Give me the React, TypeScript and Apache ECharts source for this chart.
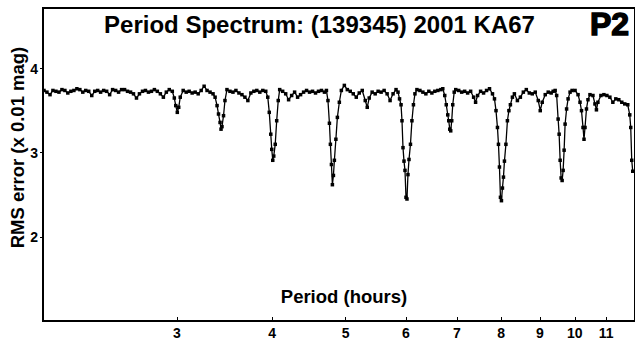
import React, { useEffect, useRef } from "react";
import * as echarts from "echarts";

const periods = [
  2.006, 2.024, 2.043, 2.061, 2.08, 2.099, 2.118, 2.137, 2.156, 2.176, 2.196, 2.216, 2.236, 2.256, 2.276, 2.297, 2.318, 2.339, 2.36, 2.381, 2.403, 2.425, 2.447, 2.469, 2.492, 2.514, 2.537, 2.56, 2.583, 2.607, 2.63, 2.654, 2.678, 2.703, 2.727, 2.752, 2.777, 2.802, 2.827, 2.853, 2.879, 2.905, 2.931, 2.958,
  2.976, 2.989, 3.003, 3.016, 3.03, 3.057, 3.085, 3.113, 3.141, 3.17, 3.199, 3.228, 3.257, 3.286, 3.316, 3.346, 3.367,
  3.387, 3.402, 3.418, 3.428, 3.438, 3.454, 3.469, 3.49, 3.522, 3.554, 3.586, 3.619, 3.652, 3.685, 3.718, 3.752, 3.786, 3.82, 3.855, 3.89, 3.925,
  3.949, 3.967, 3.985, 3.997, 4.009, 4.021, 4.039, 4.057, 4.076, 4.094, 4.131, 4.169, 4.206, 4.245, 4.283, 4.322, 4.361, 4.401, 4.441, 4.481, 4.522, 4.563, 4.604, 4.646, 4.688,
  4.716, 4.738, 4.759, 4.773, 4.788, 4.802, 4.817, 4.831, 4.853, 4.875, 4.904, 4.934, 4.979, 5.024, 5.069, 5.115, 5.162, 5.209, 5.256, 5.304, 5.336, 5.368, 5.416, 5.466, 5.515, 5.565, 5.616, 5.667, 5.718, 5.77, 5.822, 5.857,
  5.884, 5.911, 5.928, 5.946, 5.964, 5.982, 6.0, 6.018, 6.036, 6.055, 6.082, 6.109, 6.137, 6.165, 6.202, 6.258, 6.315, 6.372, 6.43, 6.489, 6.547, 6.607, 6.667, 6.707,
  6.747, 6.778, 6.809, 6.829, 6.85, 6.87, 6.891, 6.912, 6.943, 6.975, 7.038, 7.102, 7.166, 7.231, 7.297, 7.363, 7.407, 7.452, 7.52, 7.588, 7.657, 7.726, 7.796, 7.843,
  7.879, 7.914, 7.938, 7.962, 7.986, 8.01, 8.034, 8.059, 8.083, 8.119, 8.156, 8.193, 8.23, 8.28, 8.33, 8.406, 8.482, 8.559, 8.636, 8.715, 8.794, 8.873, 8.954, 9.008, 9.062, 9.145, 9.228, 9.311, 9.367, 9.424,
  9.467, 9.509, 9.538, 9.567, 9.596, 9.625, 9.654, 9.683, 9.712, 9.756, 9.8, 9.859, 9.919, 10.009, 10.1, 10.16,
  10.206, 10.253, 10.284, 10.315, 10.361, 10.408, 10.471, 10.566, 10.63, 10.678, 10.726, 10.823, 10.922, 11.021, 11.121, 11.222, 11.323, 11.426, 11.53, 11.634, 11.74, 11.811, 11.846, 11.882, 11.918,
];

const rms = [
  3.74, 3.72, 3.69, 3.74, 3.73, 3.72, 3.75, 3.74, 3.71, 3.73, 3.74, 3.76, 3.75, 3.72, 3.74, 3.73, 3.68, 3.73, 3.74, 3.72, 3.74, 3.73, 3.69, 3.75, 3.74, 3.72, 3.75, 3.75, 3.73, 3.72, 3.7, 3.65, 3.7, 3.73, 3.74, 3.72, 3.73, 3.75, 3.73, 3.7, 3.66, 3.72, 3.75, 3.73,
  3.65, 3.56, 3.48, 3.54, 3.66, 3.74, 3.72, 3.73, 3.71, 3.72, 3.7, 3.74, 3.79, 3.74, 3.72, 3.7, 3.66,
  3.56, 3.46, 3.36, 3.28, 3.31, 3.44, 3.62, 3.75, 3.73, 3.72, 3.74, 3.71, 3.69, 3.66, 3.62, 3.71, 3.73, 3.74, 3.72, 3.74, 3.73,
  3.66, 3.48, 3.22, 3.04, 2.91, 2.96, 3.1, 3.38, 3.62, 3.75, 3.73, 3.7, 3.63, 3.68, 3.72, 3.66, 3.69, 3.72, 3.74, 3.72, 3.73, 3.71, 3.73, 3.74, 3.72,
  3.74, 3.62, 3.35, 3.1, 2.86, 2.62, 2.73, 2.91, 3.16, 3.42, 3.6, 3.74, 3.8, 3.75, 3.73, 3.7, 3.66, 3.71, 3.74, 3.62, 3.54, 3.65, 3.72, 3.7, 3.73, 3.72, 3.74, 3.7, 3.62, 3.7, 3.75, 3.72,
  3.64, 3.57, 3.38, 3.06, 2.9, 2.79, 2.47, 2.45, 2.74, 2.92, 3.1, 3.38, 3.57, 3.7, 3.75, 3.74, 3.72, 3.7, 3.73, 3.71, 3.73, 3.74, 3.75, 3.76,
  3.68, 3.57, 3.45, 3.38, 3.28, 3.26, 3.38, 3.57, 3.72, 3.75, 3.74, 3.72, 3.73, 3.71, 3.73, 3.66, 3.6, 3.68, 3.73, 3.71, 3.74, 3.76, 3.7, 3.64,
  3.5, 3.3, 3.1, 2.83, 2.47, 2.43, 2.58, 2.71, 2.9, 3.1, 3.38, 3.5, 3.57, 3.66, 3.7, 3.62, 3.66, 3.72, 3.75, 3.71, 3.7, 3.72, 3.62, 3.5, 3.6, 3.69, 3.72, 3.71, 3.73, 3.74,
  3.68, 3.4, 3.22, 2.91, 2.7, 2.67, 2.79, 3.03, 3.34, 3.52, 3.64, 3.72, 3.74, 3.74, 3.69, 3.6,
  3.5, 3.3, 3.16, 3.3, 3.52, 3.63, 3.69, 3.68, 3.58, 3.51, 3.6, 3.68, 3.69, 3.68, 3.66, 3.6, 3.64, 3.63, 3.6, 3.58, 3.57, 3.45, 3.3, 2.91, 2.78,
];

const xTickValues = [3, 4, 5, 6, 7, 8, 9, 10, 11];
const yTickValues = [2, 3, 4];
const titleText = "Period Spectrum: (139345) 2001 KA67";
const tagText = "P2";
const xName = "Period (hours)";
const yName = "RMS error (x 0.01 mag)";

const FONT = "'Liberation Sans', Arial, sans-serif";

export default function App() {
  const ref = useRef<HTMLDivElement>(null);
  useEffect(() => {
    if (!ref.current) return;
    const chart = echarts.init(ref.current, null, { renderer: "svg" });
    const data = periods.map((p, i) => [p, rms[i]]);
    chart.setOption({
      animation: false,
      backgroundColor: "#fff",
      grid: {
        left: 43,
        top: 8,
        width: 594,
        height: 313,
        show: true,
        borderColor: "#000",
        borderWidth: 2,
        backgroundColor: "transparent",
        containLabel: false,
      },
      xAxis: {
        type: "log",
        logBase: 10,
        min: 2,
        max: 12,
        axisLine: { show: true, lineStyle: { color: "#000", width: 2 } },
        axisTick: {
          show: true,
          inside: true,
          length: 4,
          lineStyle: { color: "#000", width: 1 },
          customValues: xTickValues,
        },
        axisLabel: {
          customValues: xTickValues,
          color: "#000",
          fontWeight: "bold",
          fontSize: 14,
          fontFamily: FONT,
          margin: 5,
        },
        splitLine: { show: false },
        minorTick: { show: false },
        minorSplitLine: { show: false },
      },
      yAxis: {
        type: "value",
        min: 1,
        max: 4.72,
        axisLine: { show: true, lineStyle: { color: "#000", width: 2 } },
        axisTick: {
          show: true,
          inside: false,
          length: 3,
          lineStyle: { color: "#000", width: 1 },
          customValues: yTickValues,
        },
        axisLabel: {
          customValues: yTickValues,
          color: "#000",
          fontWeight: "bold",
          fontSize: 14,
          fontFamily: FONT,
          margin: 5,
        },
        splitLine: { show: false },
      },
      series: [
        {
          type: "line",
          data,
          symbol: "rect",
          symbolSize: 3.5,
          showSymbol: true,
          showAllSymbol: true,
          itemStyle: { color: "#000" },
          lineStyle: { color: "#000", width: 1.3 },
          emphasis: { disabled: true },
        },
      ],
      graphic: [
        {
          type: "text",
          x: 319.5,
          y: 24,
          style: {
            text: titleText,
            font: `bold 24px ${FONT}`,
            fill: "#000",
            textAlign: "center",
            textVerticalAlign: "middle",
            align: "center",
            verticalAlign: "middle",
          },
        },
        {
          type: "text",
          x: 609.5,
          y: 23.5,
          style: {
            text: tagText,
            font: `bold 32px ${FONT}`,
            fill: "#000",
            stroke: "#000",
            lineWidth: 1.4,
            textAlign: "center",
            textVerticalAlign: "middle",
            align: "center",
            verticalAlign: "middle",
          },
        },
        {
          type: "text",
          x: 344,
          y: 296,
          style: {
            text: xName,
            font: `bold 18.5px ${FONT}`,
            fill: "#000",
            textAlign: "center",
            textVerticalAlign: "middle",
            align: "center",
            verticalAlign: "middle",
          },
        },
        {
          type: "text",
          x: 17,
          y: 147.5,
          rotation: Math.PI / 2,
          style: {
            text: yName,
            font: `bold 18.5px ${FONT}`,
            fill: "#000",
            textAlign: "center",
            textVerticalAlign: "middle",
            align: "center",
            verticalAlign: "middle",
          },
        },
      ],
    });
    return () => chart.dispose();
  }, []);
  return (
    <div
      ref={ref}
      style={{ position: "fixed", left: 0, top: 0, width: 635, height: 341 }}
    />
  );
}
